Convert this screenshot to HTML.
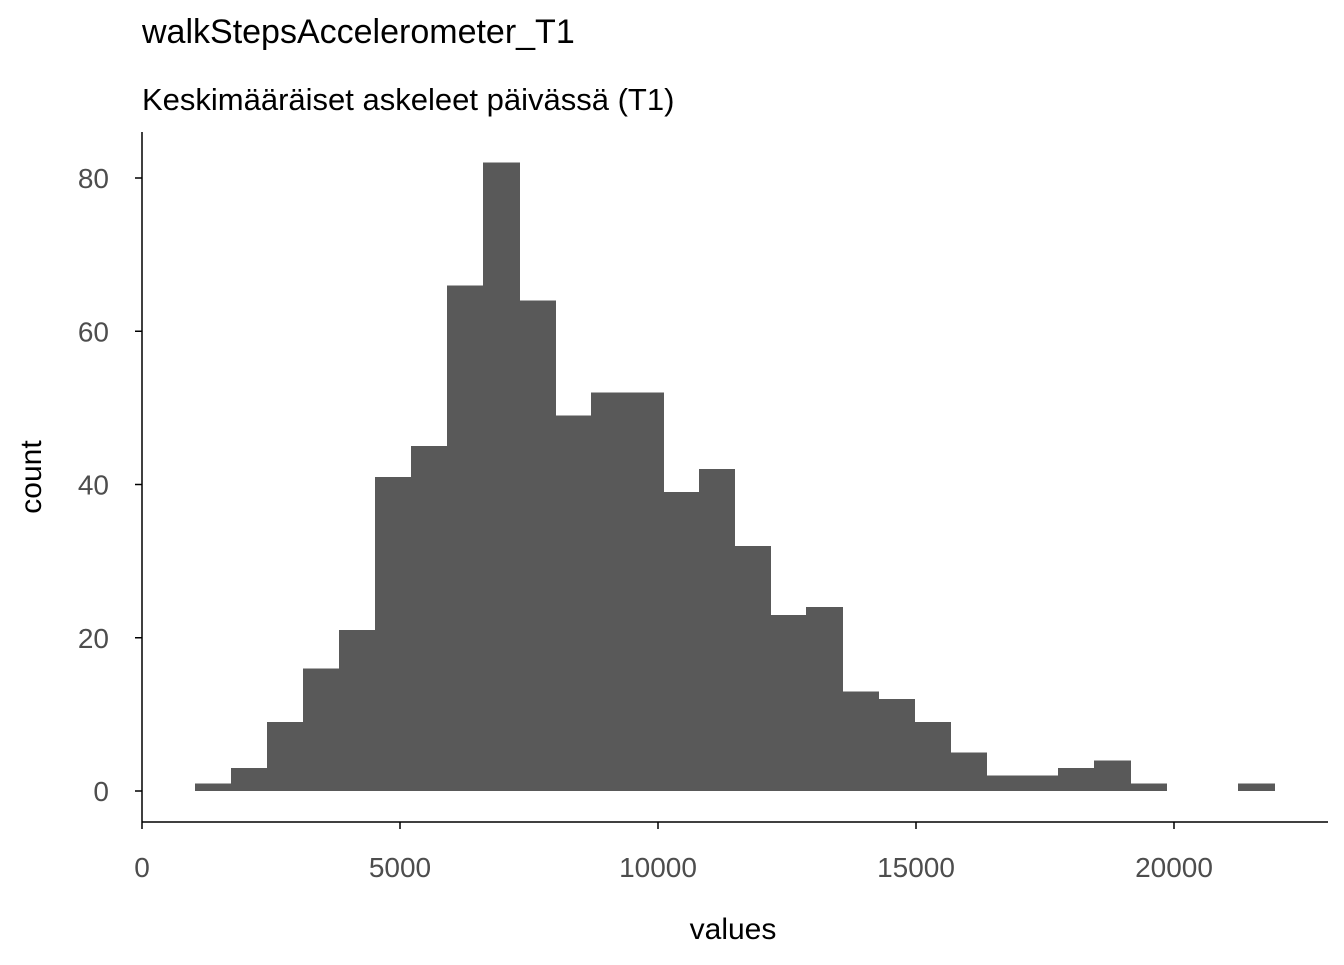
<!DOCTYPE html>
<html><head><meta charset="utf-8"><style>
html,body{margin:0;padding:0;background:#fff;}
svg text{font-family:"Liberation Sans",Arial,sans-serif;}
</style></head><body>
<svg width="1344" height="960" xmlns="http://www.w3.org/2000/svg">
<text x="142" y="43" font-size="34" fill="#000">walkStepsAccelerometer_T1</text>
<text x="142" y="110" font-size="31" fill="#000">Keskimääräiset askeleet päivässä (T1)</text>
<g id="bars" shape-rendering="crispEdges"></g>
<g id="axes"></g>
<text x="733" y="939" font-size="30" text-anchor="middle" fill="#000">values</text>
<text transform="translate(41,477) rotate(-90)" font-size="30" text-anchor="middle" fill="#000">count</text>
</svg>
<script>
const binStart = 1027;
const binWidth = 697;
const counts = [1,3,9,16,21,41,45,66,82,64,49,52,52,39,42,32,23,24,13,12,9,5,2,2,3,4,1,0,0,1];
const xTicks = [0,5000,10000,15000,20000];
const yTicks = [0,20,40,60,80];
const NS="http://www.w3.org/2000/svg";
function sx(v){return 142 + v*258/5000;}
function sy(c){return 791 - c*613/80;}
const bars=document.getElementById('bars');
counts.forEach((c,i)=>{
  if(c<=0) return;
  const r=document.createElementNS(NS,'rect');
  const x0=sx(binStart+i*binWidth), x1=sx(binStart+(i+1)*binWidth);
  r.setAttribute('x',Math.round(x0));r.setAttribute('width',Math.round(x1)-Math.round(x0)+1);
  r.setAttribute('y',sy(c));r.setAttribute('height',sy(0)-sy(c));
  r.setAttribute('fill','#595959');
  
  
  bars.appendChild(r);
});
const axes=document.getElementById('axes');
function line(x1,y1,x2,y2,name){
  const l=document.createElementNS(NS,'line');
  l.setAttribute('x1',x1);l.setAttribute('y1',y1);l.setAttribute('x2',x2);l.setAttribute('y2',y2);
  l.setAttribute('stroke','#000');l.setAttribute('stroke-width','1.5');
  
  
  axes.appendChild(l);
}
function text(x,y,s,anchor,name){
  const t=document.createElementNS(NS,'text');
  t.setAttribute('x',x);t.setAttribute('y',y);t.setAttribute('text-anchor',anchor);
  t.setAttribute('font-size','28');t.setAttribute('fill','#4d4d4d');
  t.textContent=s;
  
  
  axes.appendChild(t);
}
line(142,132,142,822,'y-axis-line');
line(142,822,1328,822,'x-axis-line');
yTicks.forEach(v=>{line(135,sy(v),142,sy(v),'y-tick');text(109,sy(v)+10,String(v),'end','y-tick-label');});
xTicks.forEach(v=>{line(sx(v),822,sx(v),829,'x-tick');text(sx(v),877,String(v),'middle','x-tick-label');});
</script>
</body></html>
